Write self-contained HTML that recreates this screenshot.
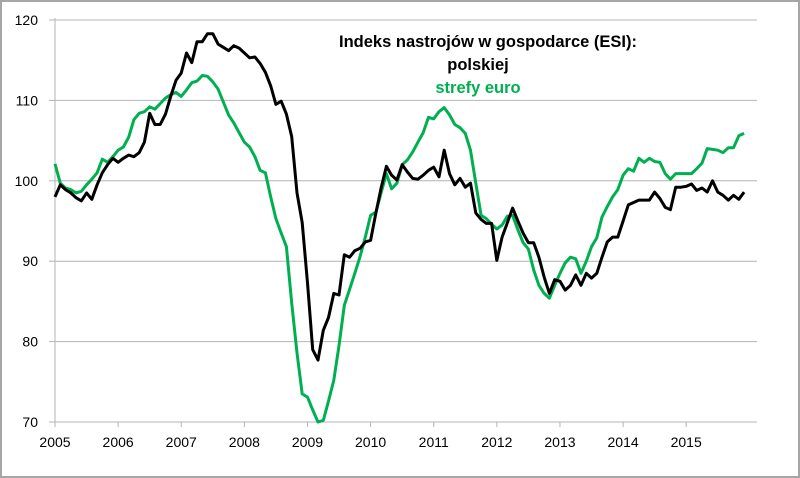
<!DOCTYPE html>
<html><head><meta charset="utf-8"><style>
html,body{margin:0;padding:0;background:#fff}
#wrap{width:800px;height:478px;position:relative;box-sizing:border-box;border:2px solid #a6a6a6;overflow:hidden}
svg{position:absolute;left:-2px;top:-2px}
text{font-family:"Liberation Sans",sans-serif}
</style></head><body>
<div id="wrap">
<svg id="chart" width="800" height="478"></svg>
</div>
<script>
const years = ["2005","2006","2007","2008","2009","2010","2011","2012","2013","2014","2015"];
const yTicks = [70,80,90,100,110,120];
const poland = [98,99.5,98.9,98.5,97.9,97.5,98.5,97.7,99.5,101,102,102.8,
102.3,102.8,103.2,103,103.5,104.8,108.4,107,107,108.3,110.5,112.5,
113.4,115.9,114.7,117.3,117.3,118.3,118.3,117,116.6,116.2,116.8,116.5,
115.9,115.3,115.4,114.6,113.5,111.8,109.5,109.9,108.3,105.5,98.5,94.8,
87.3,79,77.7,81.4,83,86,85.8,90.8,90.5,91.3,91.6,92.4,
92.6,96,99.1,101.8,100.7,100.1,102,101.1,100.3,100.2,100.7,101.3,
101.7,100.5,103.8,100.9,99.5,100.3,99.2,99.7,96,95.2,94.7,94.7,
90.1,93,94.8,96.6,95,93.5,92.3,92.3,90.5,88,86,87.7,
87.5,86.4,87,88.3,87,88.5,87.9,88.5,90.5,92.4,93,93,
95,97,97.3,97.6,97.6,97.6,98.6,97.8,96.7,96.4,99.2,99.2,
99.3,99.6,98.8,99.1,98.6,100,98.6,98.2,97.6,98.2,97.7,98.6];
const euro = [102.1,99.7,99.1,98.9,98.5,98.7,99.5,100.2,101,102.7,102.3,103,
103.8,104.2,105.4,107.6,108.4,108.6,109.2,108.9,109.6,110.3,110.7,111,
110.5,111.3,112.2,112.4,113.1,113,112.3,111.4,109.8,108.2,107.2,106,
104.8,104.2,103,101.3,101,98,95.3,93.5,91.8,84.8,78.6,73.5,
73.1,71.5,70,70.2,72.6,75.2,79.5,84.5,86.5,88.5,90.6,93,
95.7,96.1,98.5,100.9,99,99.7,102,102.6,103.6,104.8,106,107.9,
107.7,108.6,109.1,108.2,107,106.6,105.9,103.8,99.7,95.7,95.3,94.6,
94,94.5,95.6,95.7,93.9,92.3,91.5,88.9,87,86,85.4,87,
88.5,89.8,90.5,90.3,88.5,90,91.8,92.9,95.5,96.8,98,98.9,
100.7,101.5,101.2,102.8,102.3,102.8,102.4,102.3,100.9,100.2,100.9,100.9,
100.9,100.9,101.5,102.2,104,103.9,103.8,103.5,104.1,104.1,105.6,105.9];

const NS="http://www.w3.org/2000/svg";
const svg=document.getElementById('chart');
const X0=55,PX=5.26,Y0=422,YT=20,VMIN=70,VMAX=120,XR=757;
const xm=i=>X0+i*PX;
const yv=v=>Y0-(v-VMIN)/(VMAX-VMIN)*(Y0-YT);
function mk(t,a){const e=document.createElementNS(NS,t);for(const k in a)e.setAttribute(k,a[k]);svg.appendChild(e);return e;}

yTicks.forEach(v=>{
  if(v>VMIN){const g=mk('line',{x1:X0,x2:XR,y1:yv(v),y2:yv(v),stroke:'#b4b4b4','stroke-width':1});
  
  }
  const tk=mk('line',{x1:X0-6,x2:X0,y1:yv(v),y2:yv(v),stroke:'#b4b4b4','stroke-width':1});
  
  
  const t=mk('text',{x:X0-17,y:yv(v)+5,'text-anchor':'end','font-size':14,fill:'#000'});
  t.textContent=v;
  
  
});
const ya=mk('line',{x1:X0,x2:X0,y1:YT-2,y2:Y0,stroke:'#b4b4b4','stroke-width':1});


const xa=mk('line',{x1:X0,x2:XR,y1:Y0,y2:Y0,stroke:'#b4b4b4','stroke-width':1});


years.forEach((y,k)=>{
  const x=xm(k*12);
  const tk=mk('line',{x1:x,x2:x,y1:Y0,y2:Y0+5,stroke:'#b4b4b4','stroke-width':1});
  
  
  const t=mk('text',{x:x,y:Y0+25,'text-anchor':'middle','font-size':14,fill:'#000'});
  t.textContent=y;
  
  
});
function line(arr,col,name){
  const p=mk('polyline',{points:arr.map((v,i)=>xm(i).toFixed(1)+','+yv(v).toFixed(1)).join(' '),fill:'none',stroke:col,'stroke-width':3,'stroke-linejoin':'round'});
  
  
}
line(euro,'#00b050','series-euro-area');
line(poland,'#000000','series-poland');
const titles=[["Indeks nastrojów w gospodarce (ESI):",'#000',47,488,'chart-title'],["polskiej",'#000',70,478,'legend-poland'],["strefy euro",'#00b050',93,478,'legend-euro-area']];
titles.forEach(a=>{
  const t=mk('text',{x:a[3],y:a[2],'text-anchor':'middle','font-size':16.5,'font-weight':'bold',fill:a[1]});
  t.textContent=a[0];
  
  
});
</script>
</body></html>
